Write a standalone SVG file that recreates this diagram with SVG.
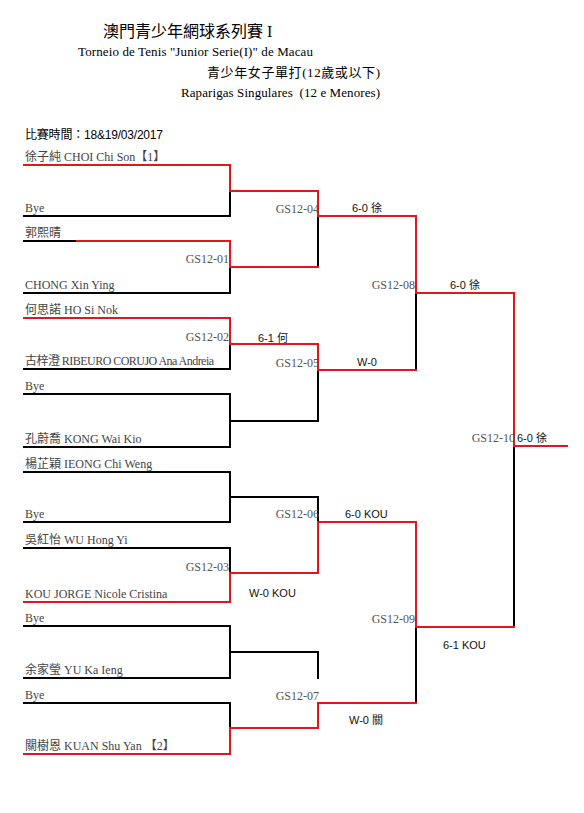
<svg xmlns="http://www.w3.org/2000/svg" width="584" height="813" viewBox="0 0 584 813">
<style>
.bg{fill:#fff}
.blk{stroke:#000;stroke-width:2;fill:none;stroke-linecap:square}
.red{stroke:#e3161b;stroke-width:2;fill:none;stroke-linecap:square}
.t{font-family:"Liberation Serif","Noto Sans CJK TC",serif;fill:#000}
.nm{font-family:"Liberation Serif","Noto Sans CJK TC",serif;font-size:12px;fill:#444}
.gs{font-family:"Liberation Serif",serif;font-size:12px;fill:#555;text-anchor:end}
.sc{font-family:"Liberation Sans","Noto Sans CJK TC",sans-serif;font-size:11px;fill:#111}
</style>
<rect class="bg" x="0" y="0" width="584" height="813"/>
<g id="header">
<text class="t" x="103" y="37" font-size="16" font-family="Noto Sans CJK TC, sans-serif">澳門青少年網球系列賽 I</text>
<text class="t" x="78" y="56" font-size="13" textLength="235">Torneio de Tenis "Junior Serie(I)" de Macau</text>
<text class="t" x="207" y="77" font-size="13" textLength="173">青少年女子單打(12歲或以下)</text>
<text class="t" x="181" y="97" font-size="13" textLength="199">Raparigas Singulares&#160; (12 e Menores)</text>
<text class="sc" x="25" y="139" style="font-size:12px;fill:#000" textLength="138">比賽時間：18&amp;19/03/2017</text>
</g>
<g id="connectors">
<path class="blk" d="M24 216H230V191M24 241H77M24 293H230V267M24 369H230V344M24 394H230V447H24M230 421H318M24 472H230V522H24M230 497H318V522M24 548H230V573M24 626H230V678H24M230 652H318V678M24 703H230V728M318 216V267M318 370V421M416 293V370M416 627V703M514 446V627"/>
<path class="red" d="M24 165H230V191H318V216H416V293H514V446H567M77 241H230V267H318M24 318H230V344H318V370H416M24 602H230V573H318V522H416V627H514M24 754H230V728H318V703H416"/>
</g>
<g id="p1"><text class="nm" x="25" y="161">徐子純 CHOI Chi Son【1】</text></g>
<g id="p2"><text class="nm" x="25" y="212">Bye</text></g>
<g id="p3"><text class="nm" x="25" y="237">郭熙晴</text></g>
<g id="p4"><text class="nm" x="25" y="289">CHONG Xin Ying</text></g>
<g id="p5"><text class="nm" x="25" y="314">何思諾 HO Si Nok</text></g>
<g id="p6"><text class="nm" x="25" y="365" textLength="189">古梓澄 RIBEURO CORUJO Ana Andreia</text></g>
<g id="p7"><text class="nm" x="25" y="390">Bye</text></g>
<g id="p8"><text class="nm" x="25" y="443">孔蔚喬 KONG Wai Kio</text></g>
<g id="p9"><text class="nm" x="25" y="468">楊芷穎 IEONG Chi Weng</text></g>
<g id="p10"><text class="nm" x="25" y="518">Bye</text></g>
<g id="p11"><text class="nm" x="25" y="544">吳紅怡 WU Hong Yi</text></g>
<g id="p12"><text class="nm" x="25" y="598">KOU JORGE Nicole Cristina</text></g>
<g id="p13"><text class="nm" x="25" y="622">Bye</text></g>
<g id="p14"><text class="nm" x="25" y="674">余家瑩 YU Ka Ieng</text></g>
<g id="p15"><text class="nm" x="25" y="699">Bye</text></g>
<g id="p16"><text class="nm" x="25" y="750">關樹恩 KUAN Shu Yan 【2】</text></g>
<g id="m01"><text class="gs" x="229" y="263">GS12-01</text></g>
<g id="m02"><text class="gs" x="229" y="341">GS12-02</text><text class="sc" x="258" y="342">6-1 何</text></g>
<g id="m03"><text class="gs" x="229" y="571">GS12-03</text><text class="sc" x="249" y="597">W-0 KOU</text></g>
<g id="m04"><text class="gs" x="319" y="213">GS12-04</text><text class="sc" x="352" y="212">6-0 徐</text></g>
<g id="m05"><text class="gs" x="319" y="367">GS12-05</text><text class="sc" x="357" y="366">W-0</text></g>
<g id="m06"><text class="gs" x="319" y="518">GS12-06</text><text class="sc" x="345" y="518">6-0 KOU</text></g>
<g id="m07"><text class="gs" x="319" y="700">GS12-07</text><text class="sc" x="349" y="724">W-0 關</text></g>
<g id="m08"><text class="gs" x="415" y="289">GS12-08</text><text class="sc" x="450" y="289">6-0 徐</text></g>
<g id="m09"><text class="gs" x="415" y="623">GS12-09</text><text class="sc" x="443" y="649">6-1 KOU</text></g>
<g id="m10"><text class="gs" x="515" y="442">GS12-10</text><text class="sc" x="517" y="442">6-0 徐</text></g>
</svg>
